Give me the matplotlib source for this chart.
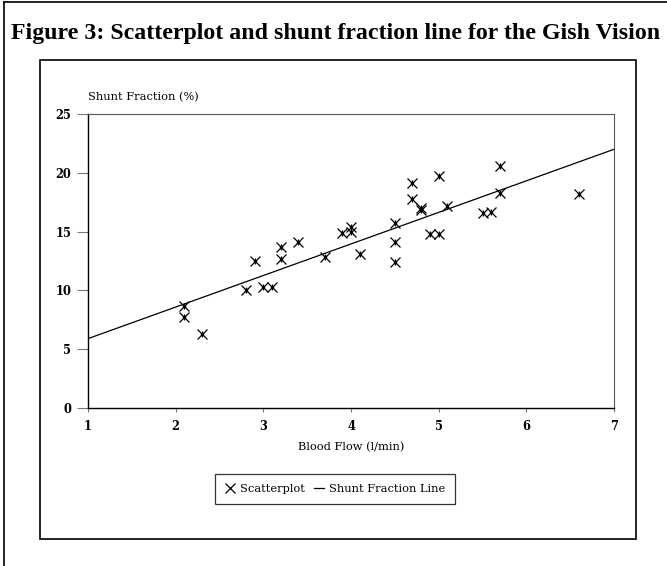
import matplotlib
matplotlib.use("Agg")
import matplotlib.pyplot as plt
from matplotlib.lines import Line2D

# === DATA ===
blood_flow = [2.1, 2.1, 2.3, 2.8, 2.9, 3.0, 3.1, 3.2, 3.2, 3.4, 3.7, 3.9, 4.0, 4.0,
              4.1, 4.5, 4.5, 4.5, 4.7, 4.7, 4.8, 4.8, 4.9, 5.0, 5.0, 5.1, 5.5, 5.6,
              5.7, 5.7, 6.6]
shunt_fraction = [8.7, 7.7, 6.3, 10.0, 12.5, 10.3, 10.3, 12.7, 13.7, 14.1, 12.8, 14.9,
                  15.4, 15.0, 13.1, 15.7, 14.1, 12.4, 19.1, 17.8, 17.0, 16.8, 14.8,
                  19.7, 14.8, 17.2, 16.6, 16.7, 20.6, 18.3, 18.2]
line_x = [1, 7]
line_y = [5.9, 22.0]
x_ticks = [1, 2, 3, 4, 5, 6, 7]
y_ticks = [0, 5, 10, 15, 20, 25]

W, H = 667, 566
serif = ["DejaVu Serif"]

fig = plt.figure(figsize=(W / 100, H / 100), dpi=100)

# === FRAMES ===
fig.add_artist(Line2D([4 / W, 4 / W], [0, 1 - 2 / H], color="black", lw=1.2))
fig.add_artist(Line2D([4 / W, 1], [1 - 2 / H, 1 - 2 / H], color="black", lw=1.2))
fig.add_artist(plt.Rectangle((40 / W, 1 - 539 / H), 596 / W, 479 / H,
                             fill=False, ec="black", lw=1.2))

fig.text(336 / W, 1 - 33 / H,
         "Figure 3: Scatterplot and shunt fraction line for the Gish Vision",
         ha="center", va="center", fontsize=17.2, fontweight="bold",
         family="Liberation Serif")

# === PLOT ===
ax = fig.add_axes([88 / W, 1 - 408 / H, (614 - 88) / W, (408 - 114) / H])
ax.plot(line_x, line_y, color="black", lw=0.9)
ax.plot(blood_flow, shunt_fraction, ls="none", marker="x", ms=7, mew=0.9, color="black")
ax.plot(blood_flow, shunt_fraction, ls="none", marker="|", ms=5, mew=0.9, color="black")
ax.plot(blood_flow, shunt_fraction, ls="none", marker="s", ms=2, color="black")

ax.set_xlim(1, 7)
ax.set_ylim(0, 25)
ax.set_xticks(x_ticks)
ax.set_yticks(y_ticks)
ax.tick_params(axis="y", length=8, width=0.8, pad=4, color="#777777")
ax.tick_params(axis="x", length=3, width=0.8, pad=6, color="#777777")
for lab in ax.get_xticklabels() + ax.get_yticklabels():
    lab.set_family(serif)
    lab.set_fontsize(8.3)
    lab.set_fontweight("bold")
for side in ["top", "right"]:
    ax.spines[side].set_color("#555555")
    ax.spines[side].set_linewidth(0.8)
for side in ["left", "bottom"]:
    ax.spines[side].set_linewidth(1.0)

fig.text(88 / W, 1 - 97 / H, "Shunt Fraction (%)", ha="left", va="center",
         fontsize=8.2, family=serif)
fig.text(351 / W, 1 - 447 / H, "Blood Flow (l/min)", ha="center", va="center",
         fontsize=8.2, family=serif)

# === LEGEND ===
h_scatter = Line2D([], [], ls="none", marker="x", ms=7, mew=0.9, color="black")
h_line = Line2D([], [], color="black", lw=0.9)
leg = fig.legend([h_scatter, h_line], ["Scatterplot", "Shunt Fraction Line"],
                 loc="center", bbox_to_anchor=(335 / W, 1 - 489 / H), ncol=2,
                 fancybox=False, frameon=True, edgecolor="black",
                 prop={"family": serif, "size": 8.2},
                 handlelength=0.9, handletextpad=0.4, columnspacing=0.8,
                 borderpad=0.9)
leg.get_frame().set_linewidth(0.9)

plt.savefig("out.png", dpi=100)
